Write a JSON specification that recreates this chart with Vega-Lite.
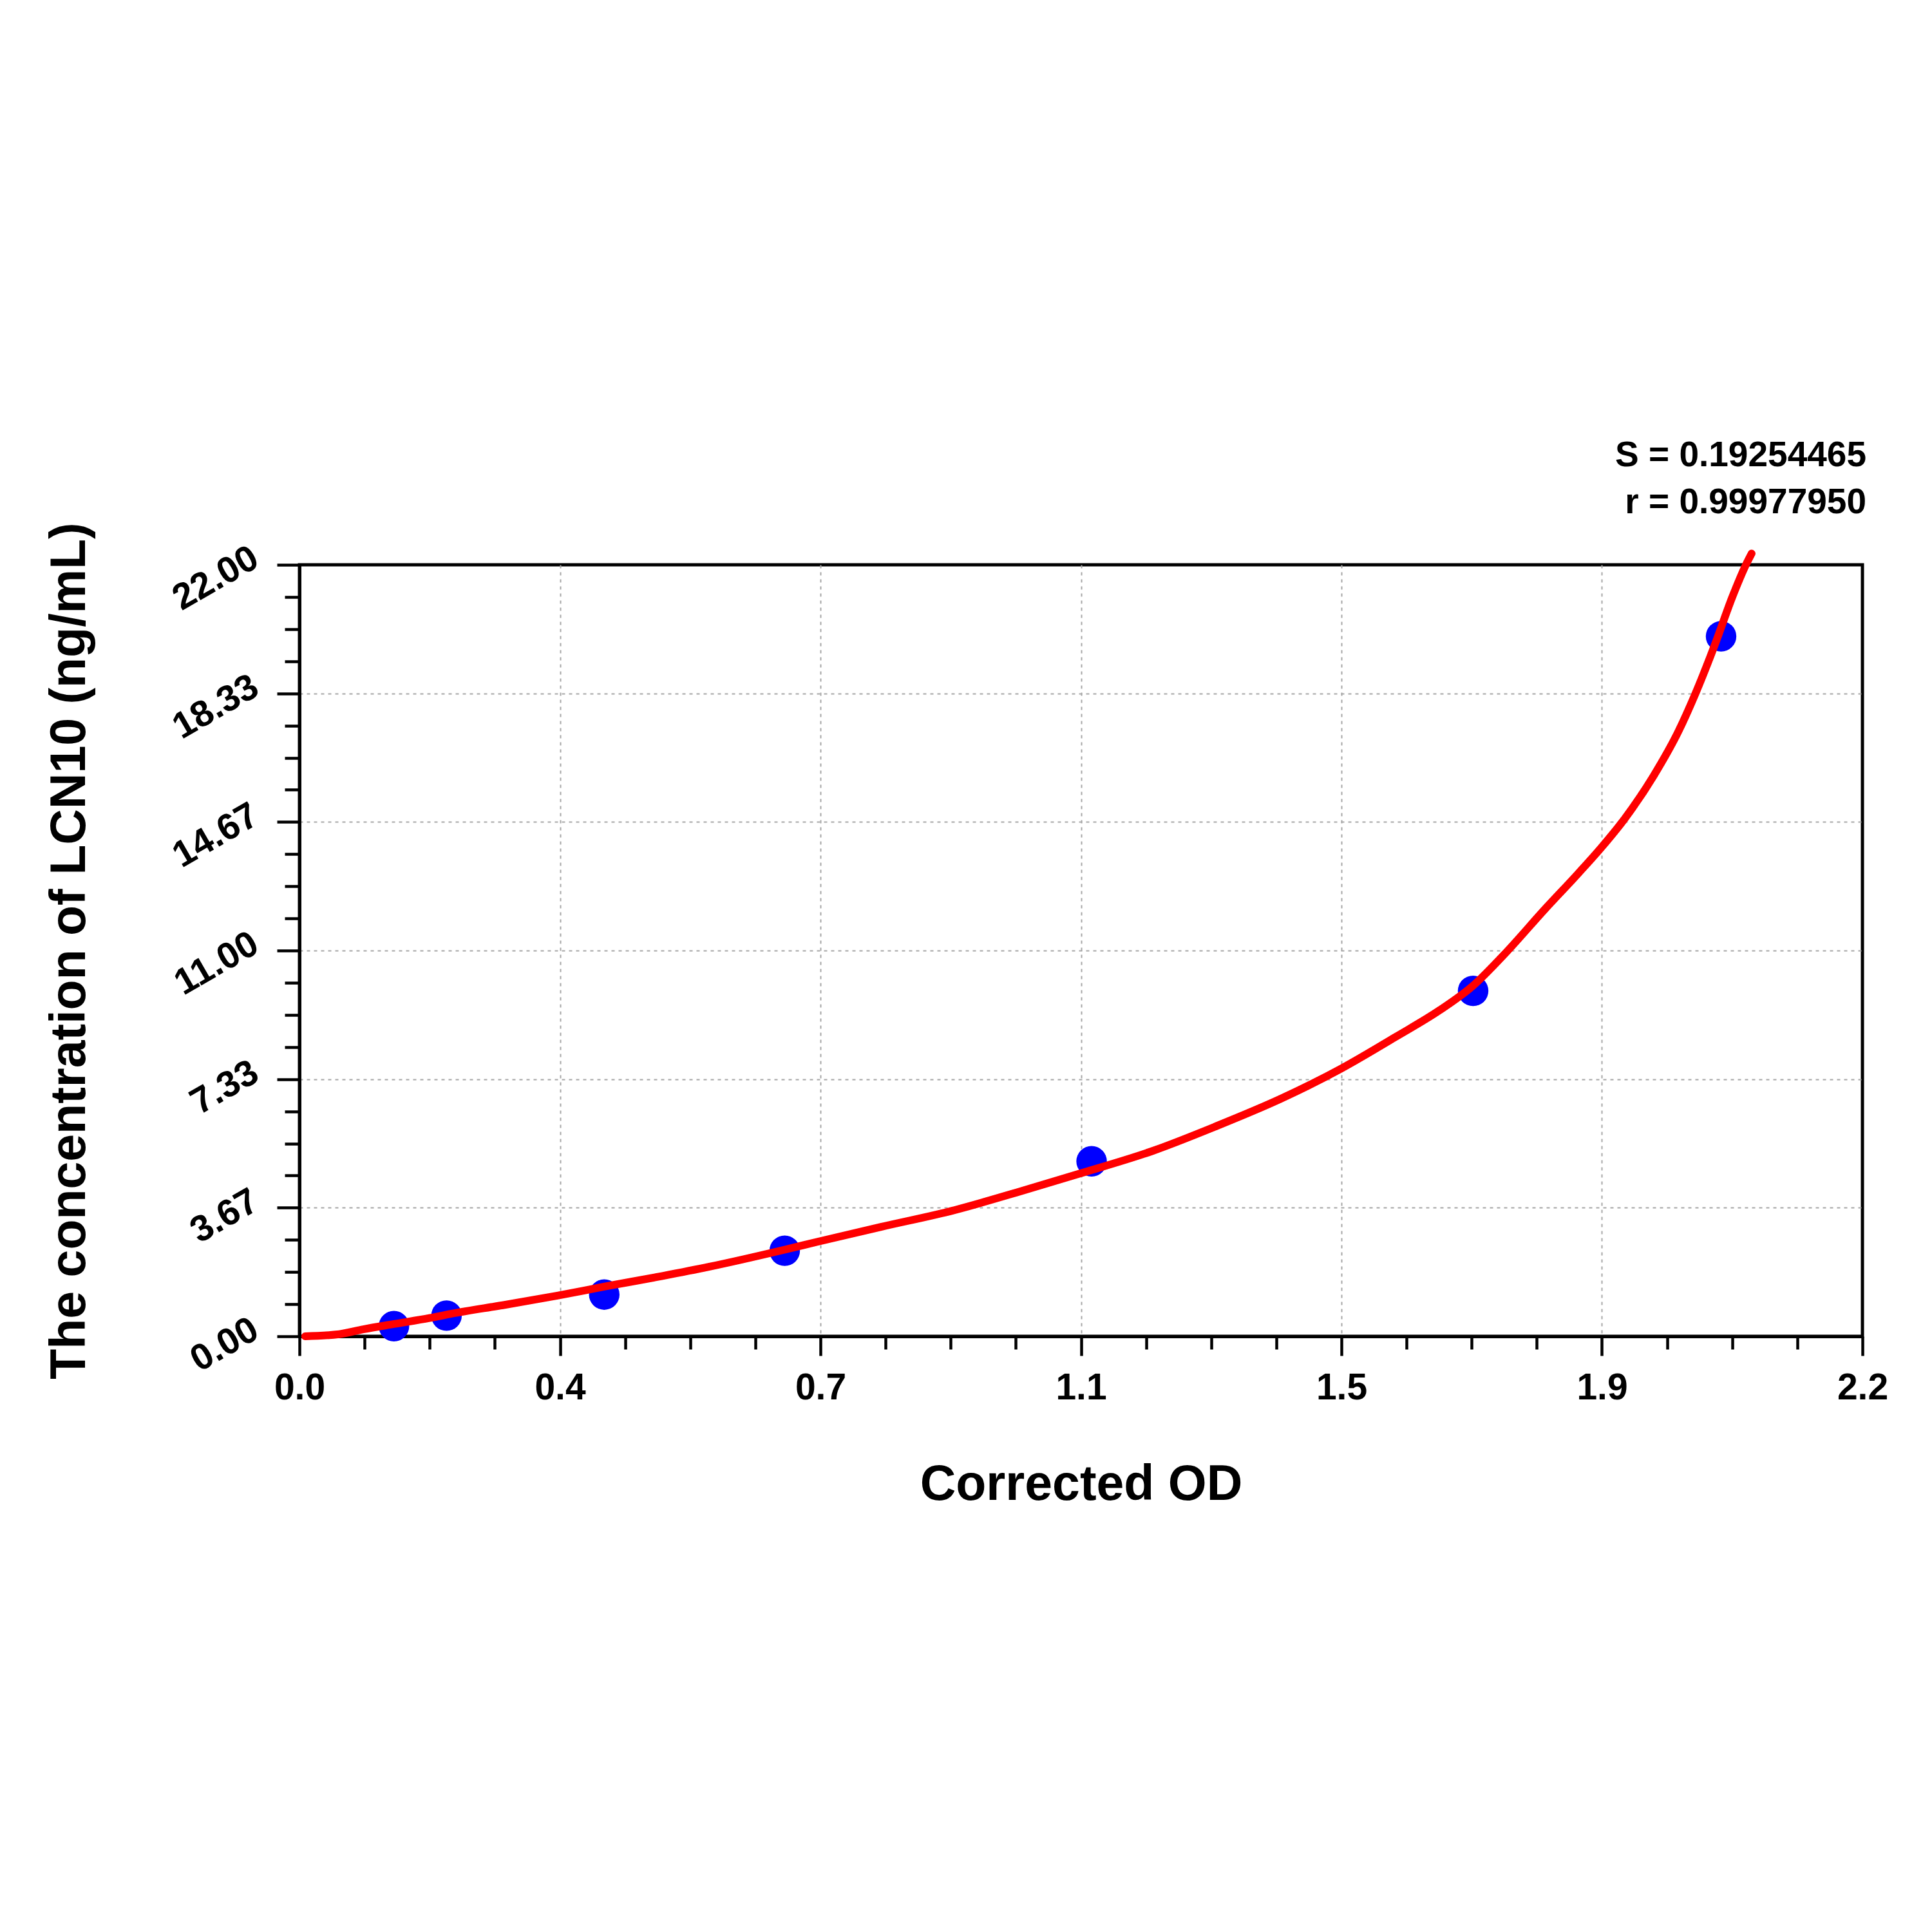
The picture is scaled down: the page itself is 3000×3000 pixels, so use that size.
{
  "$schema": "https://vega.github.io/schema/vega-lite/v6.json",
  "width": 2427,
  "height": 1198,
  "autosize": {"type": "none"},
  "padding": {"left": 465, "top": 877, "right": 108, "bottom": 925},
  "background": "white",
  "title": {
    "text": ["S = 0.19254465", "r = 0.99977950"],
    "anchor": "end",
    "frame": "group",
    "orient": "top",
    "align": "right",
    "offset": 2,
    "dx": 6,
    "font": "Liberation Sans",
    "fontSize": 55,
    "fontWeight": "bold",
    "color": "black",
    "lineHeight": 73
  },
  "config": {
    "view": {"stroke": "black", "strokeWidth": 5},
    "axis": {
      "domainColor": "black",
      "domainWidth": 5,
      "tickColor": "black",
      "tickWidth": 4.5,
      "labelFont": "Liberation Sans",
      "labelFontWeight": "bold",
      "labelColor": "black",
      "labelFontSize": 57,
      "labelOverlap": false,
      "labelFlush": false,
      "titleFont": "Liberation Sans",
      "titleFontWeight": "bold",
      "titleColor": "black",
      "titleFontSize": 77,
      "gridColor": "#a6a6a6",
      "gridWidth": 2,
      "gridDash": [5, 6]
    }
  },
  "datasets": {
    "standards": [
      {"od": 0.133, "conc": 0.29},
      {"od": 0.207, "conc": 0.59},
      {"od": 0.429, "conc": 1.19},
      {"od": 0.683, "conc": 2.44},
      {"od": 1.115, "conc": 4.99},
      {"od": 1.652, "conc": 9.85},
      {"od": 2.001, "conc": 19.96}
    ],
    "fit": [
      {"od": 0.008, "conc": 0.0},
      {"od": 0.056, "conc": 0.06},
      {"od": 0.09, "conc": 0.2},
      {"od": 0.133, "conc": 0.35},
      {"od": 0.183, "conc": 0.52},
      {"od": 0.213, "conc": 0.64},
      {"od": 0.29, "conc": 0.9},
      {"od": 0.363, "conc": 1.16},
      {"od": 0.43, "conc": 1.42},
      {"od": 0.511, "conc": 1.72},
      {"od": 0.576, "conc": 1.98},
      {"od": 0.683, "conc": 2.47},
      {"od": 0.73, "conc": 2.7},
      {"od": 0.8185, "conc": 3.12},
      {"od": 0.9225, "conc": 3.6},
      {"od": 1.0093, "conc": 4.1},
      {"od": 1.1, "conc": 4.65},
      {"od": 1.2, "conc": 5.28},
      {"od": 1.289, "conc": 5.98},
      {"od": 1.382, "conc": 6.78},
      {"od": 1.466, "conc": 7.63},
      {"od": 1.544, "conc": 8.55},
      {"od": 1.605, "conc": 9.3},
      {"od": 1.652, "conc": 10.0},
      {"od": 1.694, "conc": 10.85},
      {"od": 1.754, "conc": 12.2},
      {"od": 1.8, "conc": 13.2},
      {"od": 1.833, "conc": 13.95},
      {"od": 1.865, "conc": 14.75},
      {"od": 1.906, "conc": 15.98},
      {"od": 1.941, "conc": 17.25},
      {"od": 1.965, "conc": 18.33},
      {"od": 1.993, "conc": 19.76},
      {"od": 2.017, "conc": 21.09},
      {"od": 2.036, "conc": 22.0},
      {"od": 2.044, "conc": 22.32}
    ]
  },
  "layer": [
    {
      "data": {"name": "standards"},
      "mark": {"type": "point", "shape": "circle", "filled": true, "size": 2250, "color": "#0000ff", "opacity": 1, "strokeWidth": 0},
      "encoding": {
        "x": {
          "field": "od",
          "type": "quantitative",
          "scale": {"domain": [0, 2.2], "nice": false, "zero": false},
          "axis": {
            "title": "Corrected OD",
            "titlePadding": 84,
            "values": [0, 0.0916667, 0.1833333, 0.275, 0.3666667, 0.4583333, 0.55, 0.6416667, 0.7333333, 0.825, 0.9166667, 1.0083333, 1.1, 1.1916667, 1.2833333, 1.375, 1.4666667, 1.5583333, 1.65, 1.7416667, 1.8333333, 1.925, 2.0166667, 2.1083333, 2.2],
            "labelExpr": "round(datum.value * 24 / 2.2) % 4 == 0 ? ['0.0', '0.4', '0.7', '1.1', '1.5', '1.9', '2.2'][round(datum.value * 24 / 2.2) / 4] : ''",
            "labelPadding": 22,
            "tickSize": {"condition": {"test": "round(datum.value * 24 / 2.2) % 4 == 0", "value": 30}, "value": 20},
            "gridOpacity": {"condition": {"test": "round(datum.value * 24 / 2.2) % 4 == 0 && datum.value > 0.01 && datum.value < 2.19", "value": 1}, "value": 0}
          }
        },
        "y": {
          "field": "conc",
          "type": "quantitative",
          "scale": {"domain": [0, 22], "nice": false, "zero": false},
          "axis": {
            "title": "The concentration of LCN10 (ng/mL)",
            "titlePadding": 118,
            "values": [0, 0.9166667, 1.8333333, 2.75, 3.6666667, 4.5833333, 5.5, 6.4166667, 7.3333333, 8.25, 9.1666667, 10.0833333, 11, 11.9166667, 12.8333333, 13.75, 14.6666667, 15.5833333, 16.5, 17.4166667, 18.3333333, 19.25, 20.1666667, 21.0833333, 22],
            "labelExpr": "round(datum.value * 24 / 22) % 4 == 0 ? format(datum.value, '.2f') : ''",
            "labelAngle": -30,
            "labelAlign": "right",
            "labelBaseline": "alphabetic",
            "labelPadding": 25,
            "tickSize": {"condition": {"test": "round(datum.value * 24 / 22) % 4 == 0", "value": 35}, "value": 23},
            "gridOpacity": {"condition": {"test": "round(datum.value * 24 / 22) % 4 == 0 && datum.value > 0.1 && datum.value < 21.9", "value": 1}, "value": 0}
          }
        }
      }
    },
    {
      "data": {"name": "fit"},
      "mark": {"type": "line", "color": "#ff0000", "strokeWidth": 12, "strokeCap": "round", "strokeJoin": "round", "interpolate": "monotone"},
      "encoding": {
        "x": {"field": "od", "type": "quantitative"},
        "y": {"field": "conc", "type": "quantitative"}
      }
    }
  ]
}
